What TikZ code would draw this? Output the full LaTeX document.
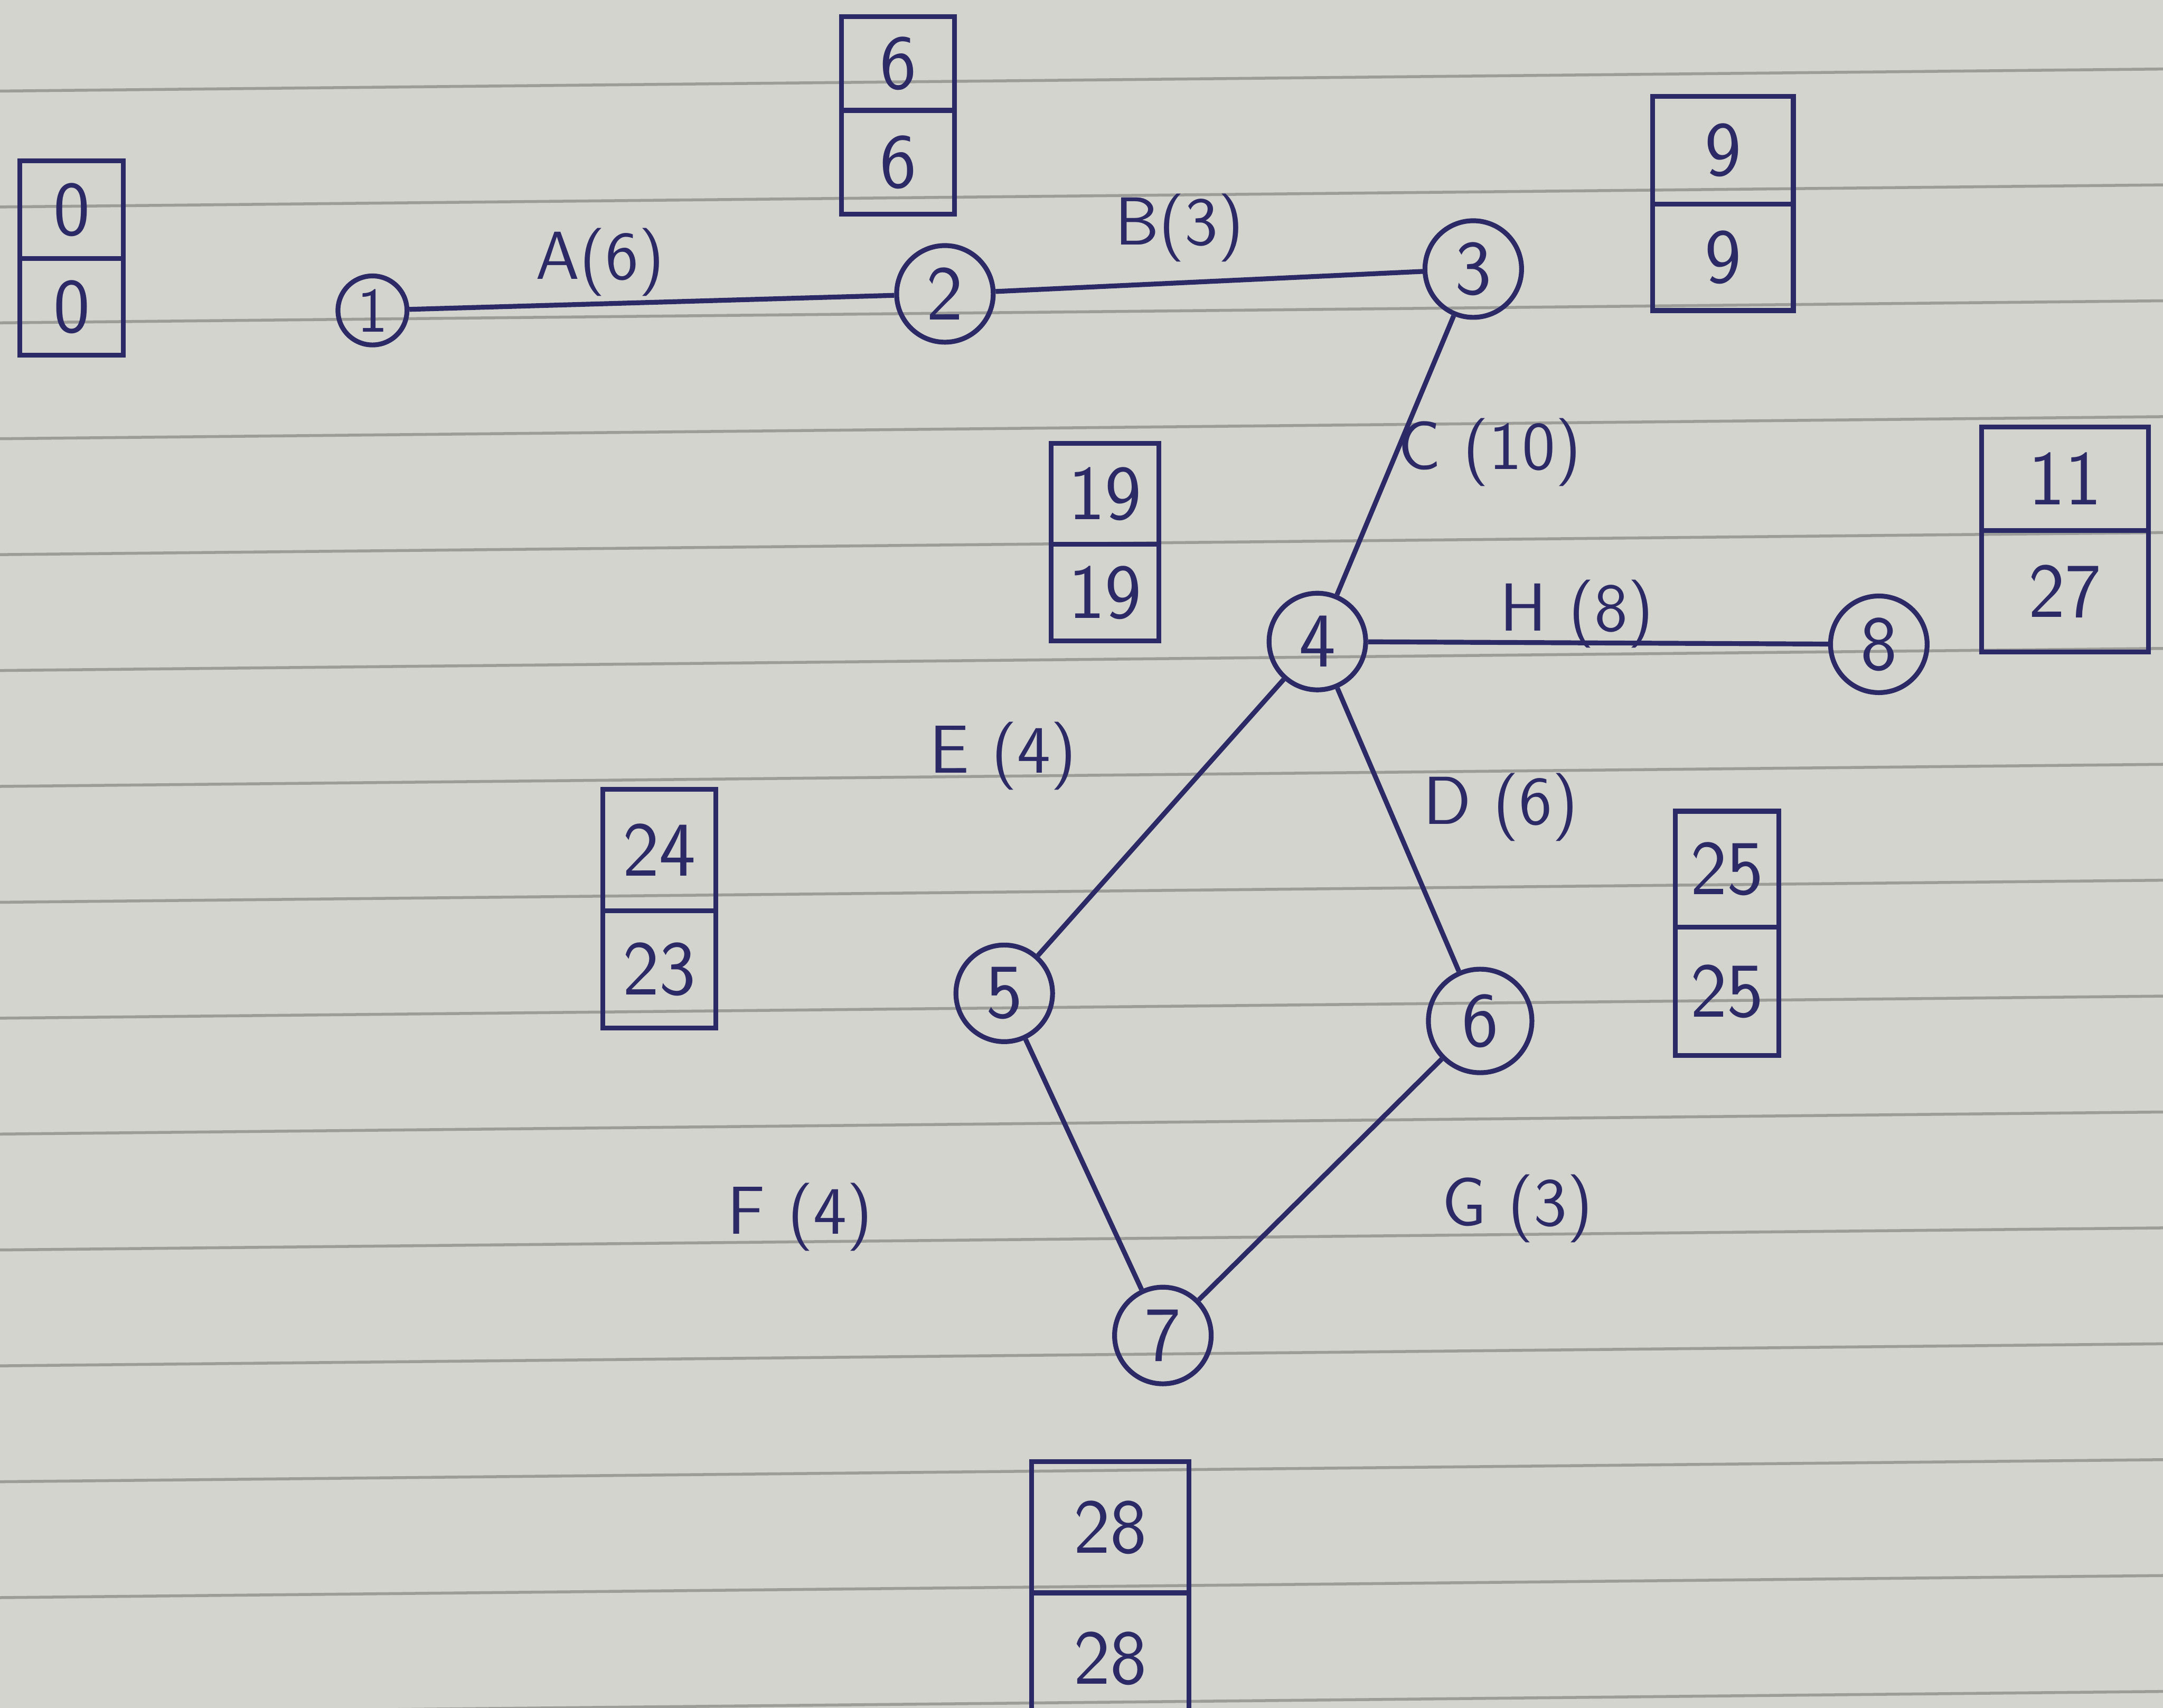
\documentclass[tikz,border=0pt]{standalone}
\usepackage{tikz}
\usetikzlibrary{positioning}
\definecolor{inkblue}{HTML}{2B2A66}
\definecolor{paper}{HTML}{D4D4CE}
\definecolor{ruling}{HTML}{9C9C98}

\begin{document}
\begin{tikzpicture}[
  x=0.01cm, y=-0.01cm,
  event/.style={circle, draw=inkblue, line width=1pt, text=inkblue,
                font=\sffamily\fontsize{16}{16}\selectfont,
                inner sep=0pt, minimum size=0.7cm},
  cell/.style={rectangle, draw=inkblue, line width=1pt, text=inkblue,
               font=\sffamily\fontsize{16}{16}\selectfont,
               inner sep=0pt, outer sep=0pt},
  act/.style={text=inkblue, font=\sffamily\fontsize{14}{14}\selectfont,
              inner sep=1pt},
  link/.style={draw=inkblue, line width=1pt},
  rule/.style={draw=ruling, line width=0.6pt},
]

%% PAPER
\useasboundingbox (0,0) rectangle (1568,1238);
\clip (0,0) rectangle (1568,1238);
\fill[paper] (0,0) rectangle (1568,1238);
\foreach \ry in {58,142,...,1238}
  \draw[rule] (0,\ry+8) -- (1568,\ry-8);

%% EVENTS
\node[event, minimum size=0.5cm, font=\sffamily\fontsize{13}{13}\selectfont] (n1) at (270,225) {1};
\node[event] (n2) at (685,213) {2};
\node[event] (n3) at (1068,195) {3};
\node[event] (n4) at (955,465) {4};
\node[event] (n8) at (1362,467) {8};
\node[event] (n5) at (728,720) {5};
\node[event, minimum size=0.75cm] (n6) at (1073,740) {6};
\node[event] (n7) at (843,968) {7};

%% TIME BOXES (earliest above, latest below)
\node[cell, minimum width=0.75cm, minimum height=0.71cm] (e1) at (52,152) {0};
\node[cell, minimum width=0.75cm, minimum height=0.70cm, below=0pt of e1] (l1) {0};

\node[cell, minimum width=0.82cm, minimum height=0.68cm] (e2) at (651,46) {6};
\node[cell, minimum width=0.82cm, minimum height=0.75cm, below=0pt of e2] (l2) {6};

\node[cell, minimum width=1.02cm, minimum height=0.78cm] (e3) at (1249,109) {9};
\node[cell, minimum width=1.02cm, minimum height=0.77cm, below=0pt of e3] (l3) {9};

\node[cell, minimum width=0.78cm, minimum height=0.73cm] (e4) at (801,358) {19};
\node[cell, minimum width=0.78cm, minimum height=0.70cm, below=0pt of e4] (l4) {19};

\node[cell, minimum width=1.21cm, minimum height=0.75cm] (e8) at (1497,347) {11};
\node[cell, minimum width=1.21cm, minimum height=0.88cm, below=0pt of e8] (l8) {27};

\node[cell, minimum width=0.82cm, minimum height=0.88cm] (e5) at (478,616) {24};
\node[cell, minimum width=0.82cm, minimum height=0.85cm, below=0pt of e5] (l5) {23};

\node[cell, minimum width=0.75cm, minimum height=0.84cm] (e6) at (1252,630) {25};
\node[cell, minimum width=0.75cm, minimum height=0.93cm, below=0pt of e6] (l6) {25};

\node[cell, minimum width=1.14cm, minimum height=0.95cm] (e7) at (805,1107) {28};
\node[cell, minimum width=1.14cm, minimum height=0.95cm, below=0pt of e7] (l7) {28};

%% ACTIVITIES
\draw[link] (n1) -- (n2);
\draw[link] (n2) -- (n3);
\draw[link] (n3) -- (n4);
\draw[link] (n4) -- (n8);
\draw[link] (n4) -- (n5);
\draw[link] (n4) -- (n6);
\draw[link] (n5) -- (n7);
\draw[link] (n6) -- (n7);

%% ACTIVITY LABELS
\node[act] (la) at (435,190)  {A(6)};
\node[act] (lb) at (855,165)  {B(3)};
\node[act] (lc) at (1080,328) {C (10)};
\node[act] (lh) at (1143,445) {H (8)};
\node[act] (le) at (727,548)  {E (4)};
\node[act] (ld) at (1088,585) {D (6)};
\node[act] (lf) at (580,882)  {F (4)};
\node[act] (lg) at (1100,876) {G (3)};

\end{tikzpicture}
\end{document}
